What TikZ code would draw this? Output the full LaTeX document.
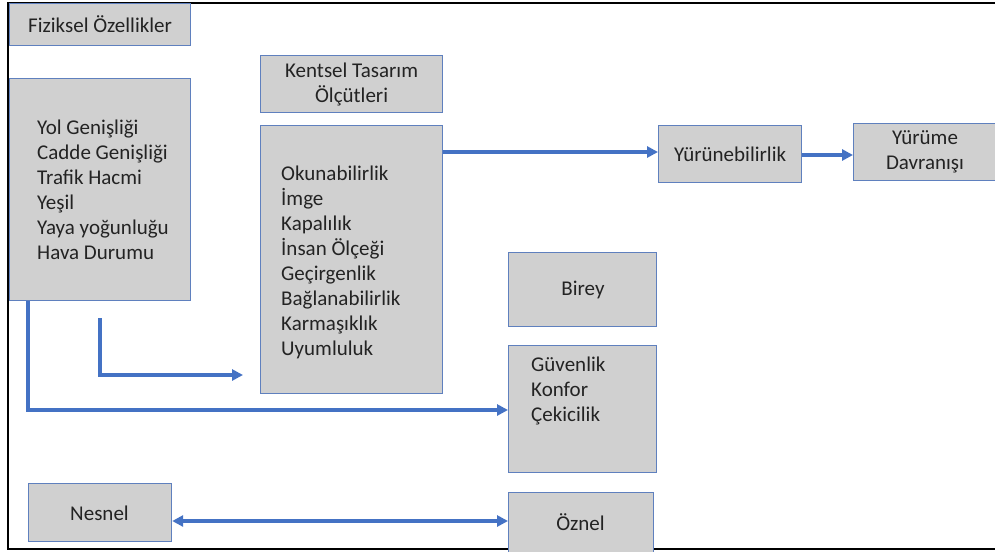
\documentclass[tikz,border=0pt]{standalone}
\usepackage{fontspec}
\setmainfont{Carlito}
\usetikzlibrary{arrows.meta}
\definecolor{boxfill}{RGB}{208,208,208}
\definecolor{boxline}{RGB}{95,128,190}
\definecolor{arr}{RGB}{68,114,196}
\definecolor{txt}{RGB}{35,35,35}
\begin{document}
\begin{tikzpicture}[x=1pt,y=-1pt,
  box/.style={draw=boxline,fill=boxfill,line width=1.2pt,anchor=north west,inner sep=0pt},
  conn/.style={draw=arr,line width=3.2pt,-{Triangle[length=11pt,width=11pt]}},
  lbl/.style={font=\fontsize{21}{25}\selectfont,text=txt,inner sep=0pt,align=left},
  clbl/.style={font=\fontsize{21}{25}\selectfont,text=txt,inner sep=0pt,align=center}]
\useasboundingbox (0,0) rectangle (995,551);
\begin{scope}
\clip (0,0) rectangle (995,551);
% frame
\draw[black,line width=2.2pt] (995,3) -- (8,3) -- (8,549) -- (995,549);
% boxes
\node[box,minimum width=181pt,minimum height=42pt] (fiz) at (9,3) {};
\node[clbl] (fizt) at (fiz.center) {Fiziksel Özellikler};
\node[box,minimum width=181pt,minimum height=222pt] (fizlist) at (9,78) {};
\node[lbl,anchor=west] (fizlistt) at (37,189.5) {Yol Genişliği\\Cadde Genişliği\\Trafik Hacmi\\Yeşil\\Yaya yoğunluğu\\Hava Durumu};
\node[box,minimum width=182pt,minimum height=57pt] (kent) at (260,55) {};
\node[clbl] (kentt) at (kent.center) {Kentsel Tasarım\\Ölçütleri};
\node[box,minimum width=182pt,minimum height=268pt] (kentlist) at (260,125) {};
\node[lbl,anchor=west] (kentlistt) at (281,262.5) {Okunabilirlik\\İmge\\Kapalılık\\İnsan Ölçeği\\Geçirgenlik\\Bağlanabilirlik\\Karmaşıklık\\Uyumluluk};
\node[box,minimum width=143pt,minimum height=57pt] (yur) at (658,125) {};
\node[clbl] (yurt) at (yur.center) {Yürünebilirlik};
\node[box,minimum width=144pt,minimum height=57pt] (dav) at (853,123) {};
\node[clbl] (davt) at (925,151.5) {Yürüme\\Davranışı};
\node[box,minimum width=148pt,minimum height=74pt] (bir) at (508,252) {};
\node[clbl] (birt) at (583,290) {Birey};
\node[box,minimum width=148pt,minimum height=127pt] (guv) at (508,345) {};
\node[lbl,anchor=north west] (guvt) at (531,357) {Güvenlik\\Konfor\\Çekicilik};
\node[box,minimum width=143pt,minimum height=58pt] (nes) at (28,483) {};
\node[clbl] (nest) at (99.5,513) {Nesnel};
\node[box,minimum width=145pt,minimum height=60pt] (oz) at (508,492) {};
\node[clbl] (ozt) at (580.5,522) {Öznel};
% connectors
\draw[conn] (kentlist.north east |- 0,152) -- (yur.west |- 0,152);
\draw[conn] (yur.east |- 0,155) -- (dav.west |- 0,155);
\coordinate (b1) at (100,318);
\coordinate (b2) at (243,375);
\draw[conn] (b1) |- (b2);
\draw[conn] ([xshift=19pt]fizlist.south west) |- (guv.west |- 0,410);
\draw[conn,{Triangle[length=11pt,width=11pt]}-{Triangle[length=11pt,width=11pt]}] (nes.east |- 0,521) -- (oz.west |- 0,521);
\end{scope}
\end{tikzpicture}
\end{document}
